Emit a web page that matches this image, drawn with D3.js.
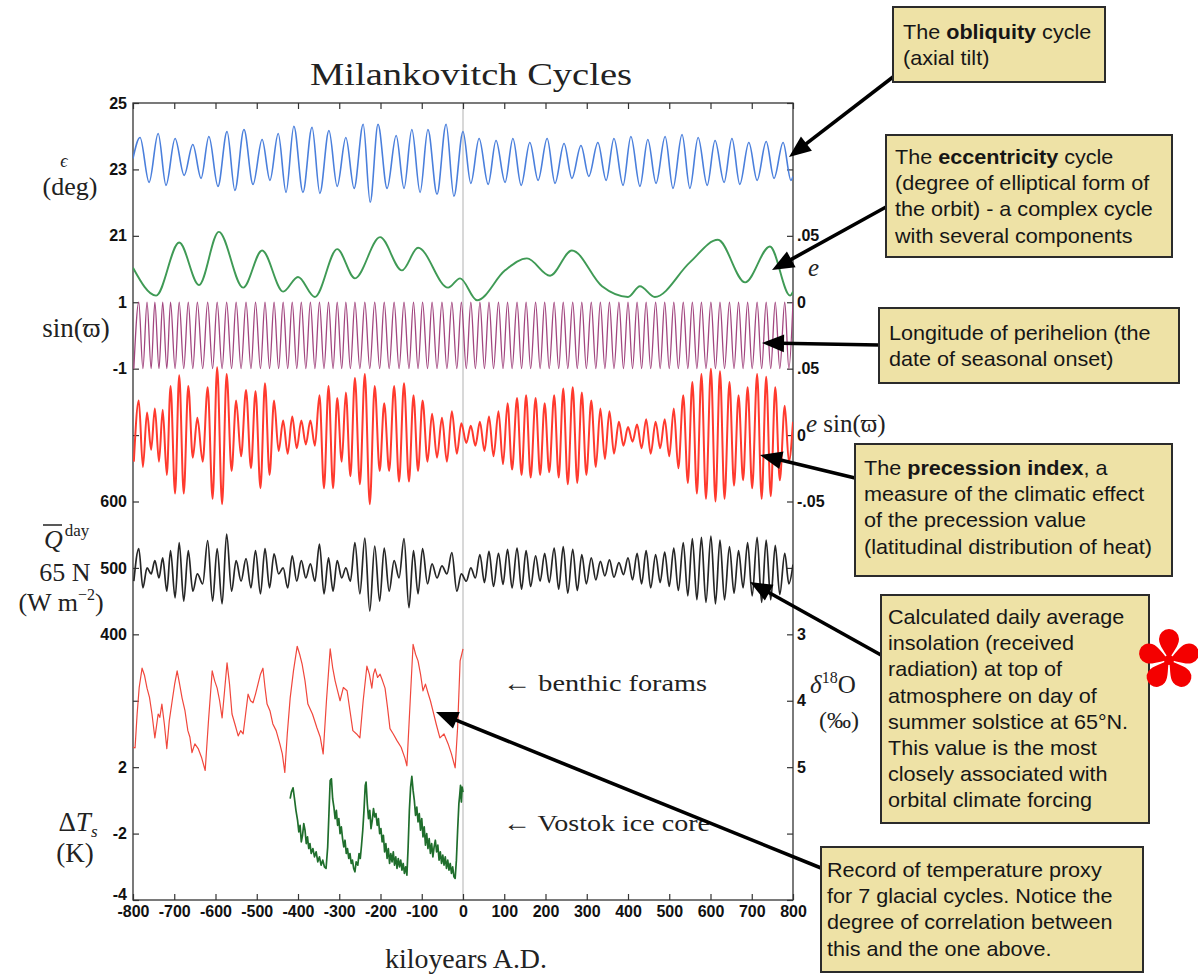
<!DOCTYPE html>
<html><head><meta charset="utf-8">
<script src="https://cdn.jsdelivr.net/npm/d3@7"></script>
<style>
body{margin:0;background:#fff;}
svg{display:block;background:#fff;}
.tick text{font-family:"Liberation Sans",Arial,sans-serif;font-weight:bold;font-size:16px;fill:#111;}
.tick line{stroke:#333;stroke-width:1.2;}
.serif{font-family:"Liberation Serif","DejaVu Serif",serif;fill:#222;}
.note{font-family:"Liberation Sans",Arial,sans-serif;font-size:20px;fill:#161616;}
</style></head><body>
<svg id="chart" width="1198" height="974"></svg>
<script>
// ---- data (time in kiloyears A.D.) ----
const xTicks = [-800,-700,-600,-500,-400,-300,-200,-100,0,100,200,300,400,500,600,700,800];
const leftLabels  = ["25","23","21","1","-1","","600","500","400","","2","-2","-4"];
const rightLabels = ["","",".05","0",".05","0","-.05","","3","4","5","",""];

// obliquity (deg): turning points
const obliquity = [[-800,23.33],[-783,23.96],[-761,22.61],[-739,24.08],[-720,22.52],[-698,23.93],[-676,22.82],[-655,23.75],[-635,22.73],[-616,23.99],[-594,22.49],[-572,24.14],[-553,22.37],[-531,24.20],[-509,22.55],[-487,23.90],[-468,22.67],[-448,24.08],[-429,22.31],[-410,24.30],[-388,22.31],[-366,24.27],[-347,22.28],[-325,24.17],[-305,22.49],[-284,23.96],[-264,22.43],[-242,24.36],[-225,22.01],[-206,24.36],[-184,22.43],[-162,24.02],[-143,22.43],[-124,24.20],[-104,22.31],[-85,24.20],[-63,22.25],[-41,24.36],[-22,22.19],[0,24.14],[19,22.58],[39,23.93],[61,22.55],[80,23.87],[102,22.61],[121,23.93],[141,22.52],[162,23.81],[182,22.67],[204,23.93],[223,22.58],[245,23.78],[264,22.73],[286,23.72],[305,22.79],[327,23.81],[347,22.67],[366,23.93],[388,22.52],[407,23.99],[429,22.49],[448,23.90],[468,22.58],[490,23.99],[509,22.43],[531,24.05],[550,22.43],[570,23.96],[592,22.52],[611,23.87],[633,22.61],[652,23.93],[671,22.55],[693,23.81],[713,22.67],[735,23.84],[754,22.73],[776,23.81],[795,22.67],[800,22.79]];

// eccentricity: turning points
const eccentricity = [[-800,0.026],[-744,0.005],[-688,0.045],[-640,0.013],[-592,0.053],[-533,0.011],[-487,0.039],[-436,0.008],[-400,0.019],[-359,0.004],[-305,0.040],[-262,0.018],[-201,0.049],[-148,0.024],[-109,0.041],[-36,0.011],[-7,0.018],[34,0.0015],[102,0.024],[155,0.033],[211,0.020],[264,0.039],[337,0.012],[400,0.004],[429,0.012],[465,0.004],[550,0.030],[618,0.047],[684,0.015],[744,0.042],[793,0.005],[800,0.008]];

// precession turning points (alternating minima / maxima)
const precT = [
 -798,-786,-776,-766,-756,-747,-737,-728,-718,-709,-698,-688,-677,-666,-655,-644,-631,-619,-607,-596,
 -584,-573,-561,-550,-538,-526,-514,-503,-491,-480,-469,-458,-447,-436,-425,-414,-403,-392,-381,-370,
 -359,-348,-337,-326,-315,-305,-294,-284,-273,-262,-250,-238,-226,-214,-202,-191,-179,-167,-155,-143,
 -131,-120,-109,-98,-86,-75,-63,-51,-39,-27,-15,-4,8,19,30,41,52,63,74,86,
 97,108,119,131,142,153,164,176,187,198,209,221,232,243,254,266,277,288,299,311,
 322,333,344,355,366,378,389,400,411,422,433,444,455,467,478,489,500,511,522,534,
 545,556,567,578,589,601,612,623,634,646,657,668,679,690,701,713,724,735,746,757,
 768,780,790,800];
const sinPerihelion = [
 -1,1,-1,1,-1,1,-1,1,-1,1,-1,1,-1,1,-1,1,-1,1,-1,1,
 -1,1,-1,1,-1,1,-1,1,-1,1,-1,1,-1,1,-1,1,-1,1,-1,1,
 -1,1,-1,1,-1,1,-1,1,-1,1,-1,1,-1,1,-1,1,-1,1,-1,1,
 -1,1,-1,1,-1,1,-1,1,-1,1,-1,1,-1,1,-1,1,-1,1,-1,1,
 -1,1,-1,1,-1,1,-1,1,-1,1,-1,1,-1,1,-1,1,-1,1,-1,1,
 -1,1,-1,1,-1,1,-1,1,-1,1,-1,1,-1,1,-1,1,-1,1,-1,1,
 -1,1,-1,1,-1,1,-1,1,-1,1,-1,1,-1,1,-1,1,-1,1,-1,1,
 -1,1,-1,1];
const precessionIndex = [
 -0.020,0.026,-0.024,0.017,-0.011,0.020,-0.020,0.019,-0.030,0.037,-0.044,0.045,-0.044,0.037,-0.017,0.013,-0.020,0.036,-0.048,0.051,
 -0.052,0.046,-0.027,0.026,-0.016,0.034,-0.025,0.033,-0.040,0.039,-0.030,0.026,-0.012,0.011,-0.014,0.014,-0.010,0.011,-0.007,0.011,
 -0.008,0.030,-0.040,0.037,-0.040,0.028,-0.020,0.032,-0.031,0.043,-0.037,0.046,-0.052,0.037,-0.027,0.024,-0.027,0.037,-0.035,0.039,
 -0.035,0.030,-0.027,0.026,-0.020,0.016,-0.017,0.013,-0.020,0.018,-0.014,0.009,-0.006,0.007,-0.008,0.010,-0.012,0.014,-0.016,0.018,
 -0.022,0.024,-0.026,0.028,-0.030,0.030,-0.032,0.028,-0.030,0.024,-0.028,0.030,-0.032,0.035,-0.037,0.036,-0.036,0.032,-0.030,0.026,
 -0.024,0.020,-0.018,0.018,-0.014,0.010,-0.008,0.006,-0.005,0.008,-0.010,0.012,-0.014,0.010,-0.010,0.012,-0.016,0.020,-0.025,0.030,
 -0.036,0.040,-0.044,0.046,-0.048,0.050,-0.050,0.048,-0.048,0.040,-0.038,0.030,-0.034,0.036,-0.040,0.046,-0.048,0.044,-0.046,0.036,
 -0.034,0.022,-0.020,0.010];
const insolation = [
 480,529,470,500,491,511,485,515,465,526,455,538,450,526,465,491,476,541,450,529,
 446,551,465,511,480,514,470,526,461,529,470,521,491,500,470,518,480,511,485,506,
 480,536,461,515,465,511,485,500,480,538,461,545,435,533,450,530,465,511,485,544,
 440,526,461,529,476,506,485,503,491,523,465,491,480,500,485,520,478,525,472,522,
 475,528,470,530,468,526,472,518,480,522,478,530,468,532,462,528,466,520,476,515,
 482,510,488,512,486,508,490,515,482,522,476,526,470,520,478,524,472,530,466,538,
 458,544,452,546,448,548,446,542,452,532,462,526,470,538,458,546,448,542,452,534,
 460,522,476,505];

// benthic foraminifera delta-18O (per mil)
const benthic = [[-800,4.70],[-795,4.71],[-790,4.20],[-785,3.80],[-778,3.51],[-772,3.62],[-766,3.81],[-760,3.95],[-754,4.20],[-747,4.56],[-739,4.20],[-735,4.25],[-730,4.05],[-724,4.35],[-718,4.72],[-712,4.30],[-705,4.00],[-699,3.75],[-693,3.55],[-687,3.75],[-681,3.96],[-674,4.15],[-667,4.45],[-662,4.55],[-657,4.78],[-650,4.65],[-642,4.72],[-634,4.85],[-625,5.05],[-617,4.30],[-608,3.55],[-602,3.70],[-596,3.81],[-590,4.00],[-584,4.26],[-578,3.85],[-572,3.43],[-566,3.75],[-560,4.20],[-553,4.35],[-545,4.53],[-539,4.45],[-533,4.50],[-527,4.20],[-521,3.90],[-515,4.00],[-509,4.03],[-503,3.90],[-497,3.75],[-491,3.60],[-485,3.51],[-480,3.80],[-475,4.05],[-468,4.15],[-461,4.35],[-453,4.45],[-444,4.65],[-438,4.80],[-432,5.08],[-426,4.50],[-419,3.96],[-411,3.55],[-402,3.18],[-396,3.30],[-390,3.45],[-383,3.70],[-376,4.05],[-365,4.20],[-354,4.41],[-346,4.55],[-339,4.80],[-331,4.00],[-322,3.22],[-316,3.50],[-310,3.70],[-304,3.85],[-298,4.00],[-290,3.80],[-281,3.85],[-274,4.15],[-267,4.45],[-258,4.50],[-250,4.56],[-242,4.00],[-233,3.48],[-227,3.60],[-221,3.81],[-217,3.60],[-213,3.52],[-207,3.65],[-201,3.60],[-195,3.70],[-189,3.81],[-183,4.10],[-177,4.42],[-169,4.50],[-160,4.60],[-150,4.70],[-141,4.86],[-136,4.98],[-128,4.00],[-121,3.15],[-115,3.30],[-109,3.40],[-103,3.60],[-97,3.85],[-91,3.75],[-85,3.88],[-79,4.00],[-73,4.15],[-65,4.35],[-56,4.56],[-46,4.50],[-36,4.65],[-28,4.80],[-19,5.01],[-13,4.40],[-7,3.40],[-3,3.30],[0,3.22]];

// Vostok ice core temperature anomaly (K)
const vostok = [[-419,-0.95],[-416,-0.75],[-412,-0.62],[-409,-0.90],[-405,-1.30],[-401,-1.60],[-398,-1.95],[-395,-1.75],[-392,-2.25],[-389,-2.05],[-386,-1.70],[-383,-1.90],[-380,-2.30],[-377,-2.10],[-374,-2.45],[-371,-2.30],[-368,-2.60],[-364,-2.45],[-360,-2.70],[-356,-2.55],[-352,-2.85],[-348,-2.70],[-344,-2.95],[-340,-2.80],[-336,-3.00],[-332,-3.05],[-328,-2.40],[-325,-1.40],[-322,-0.40],[-319,-0.35],[-316,-0.95],[-313,-1.20],[-310,-1.55],[-307,-1.30],[-304,-1.75],[-301,-1.55],[-298,-2.00],[-295,-1.80],[-292,-2.15],[-289,-2.40],[-286,-2.20],[-283,-2.60],[-280,-2.45],[-277,-2.75],[-274,-2.60],[-271,-2.90],[-268,-2.80],[-265,-3.05],[-262,-3.15],[-259,-2.85],[-255,-2.95],[-252,-2.60],[-249,-2.75],[-246,-2.35],[-243,-1.90],[-240,-1.30],[-237,-0.55],[-235,-0.45],[-232,-1.10],[-229,-1.55],[-226,-1.30],[-223,-1.85],[-220,-1.60],[-217,-1.25],[-214,-1.50],[-211,-1.40],[-208,-1.75],[-205,-1.55],[-202,-2.00],[-199,-1.85],[-196,-2.25],[-193,-2.05],[-190,-2.55],[-187,-2.30],[-184,-2.75],[-181,-2.45],[-178,-2.90],[-175,-2.60],[-172,-2.85],[-169,-2.55],[-166,-2.95],[-163,-2.70],[-160,-3.05],[-157,-2.75],[-154,-3.00],[-151,-2.80],[-148,-3.10],[-145,-2.90],[-142,-3.20],[-139,-3.00],[-136,-3.25],[-133,-2.40],[-130,-1.30],[-127,-0.60],[-124,-0.28],[-121,-0.70],[-118,-1.00],[-115,-1.45],[-112,-1.20],[-109,-1.65],[-106,-1.40],[-103,-1.90],[-100,-1.55],[-97,-2.10],[-94,-1.80],[-91,-2.35],[-88,-2.00],[-85,-2.45],[-82,-2.15],[-79,-2.60],[-76,-2.30],[-73,-2.70],[-70,-2.40],[-67,-2.20],[-64,-2.55],[-61,-2.35],[-58,-2.80],[-55,-2.55],[-52,-2.90],[-49,-2.65],[-46,-2.95],[-43,-2.70],[-40,-3.05],[-37,-2.80],[-34,-3.10],[-31,-2.90],[-28,-3.20],[-25,-3.00],[-22,-3.30],[-19,-3.35],[-16,-2.80],[-13,-1.90],[-10,-1.10],[-8,-0.85],[-6,-0.55],[-4,-1.05],[-2,-0.60],[0,-0.75]];

// ---- layout ----
const svg = d3.select("#chart");
const X0 = 133, X1 = 793, Y0 = 103, Y1 = 900;
const x = d3.scaleLinear([-800, 800], [X0, X1]);
const row = d3.scaleLinear([0, 12], [Y0, Y1]);   // shared tick rows of the stacked panels

const yObl  = d3.scaleLinear([21, 25], [row(2), row(0)]);
const yEcc  = d3.scaleLinear([0, 0.05], [row(3), row(2)]);
const ySin  = d3.scaleLinear([-1, 1], [row(4), row(3)]);
const yPrec = d3.scaleLinear([-0.05, 0.05], [row(6), row(4)]);
const yIns  = d3.scaleLinear([400, 600], [row(8), row(6)]);
const yO18  = d3.scaleLinear([3, 5], [row(8), row(10)]);
const yDT   = d3.scaleLinear([-4, 0], [row(12), row(10)]);

svg.append("defs").append("clipPath").attr("id", "plotclip")
  .append("rect").attr("x", X0).attr("y", Y0).attr("width", X1 - X0).attr("height", Y1 - Y0);

// present-day marker
svg.append("line").attr("x1", x(0)).attr("x2", x(0)).attr("y1", Y0).attr("y2", Y1)
  .attr("stroke", "#cfcfcf").attr("stroke-width", 1.6);

// axes
function styleAxis(g){ g.select(".domain").remove(); }
svg.append("g").attr("transform", `translate(0,${Y1})`)
  .call(d3.axisBottom(x).tickValues(xTicks).tickFormat(d => String(d)).tickSizeInner(-6).tickSizeOuter(0).tickPadding(6))
  .call(styleAxis);
svg.append("g").attr("transform", `translate(0,${Y0})`)
  .call(d3.axisTop(x).tickValues(xTicks).tickFormat("").tickSizeInner(-6).tickSizeOuter(0))
  .call(styleAxis);
const leftAxis = svg.append("g").attr("transform", `translate(${X0},0)`)
  .call(d3.axisLeft(row).tickValues(d3.range(13)).tickFormat(i => leftLabels[i]).tickSizeInner(-6).tickSizeOuter(0).tickPadding(6))
  .call(styleAxis);
// lift the bottom-most left label clear of the x tick labels
leftAxis.selectAll(".tick").filter(i => i === 12).select("text").attr("dy", "-0.05em");
svg.append("g").attr("transform", `translate(${X1},0)`)
  .call(d3.axisRight(row).tickValues(d3.range(13)).tickFormat(i => rightLabels[i]).tickSizeInner(-6).tickSizeOuter(0).tickPadding(4))
  .call(styleAxis);

svg.append("rect").attr("x", X0).attr("y", Y0).attr("width", X1 - X0).attr("height", Y1 - Y0)
  .attr("fill", "none").attr("stroke", "#333").attr("stroke-width", 1.3);

// series
const plot = svg.append("g").attr("clip-path", "url(#plotclip)");
function drawPairs(data, yS, color, width, curve){
  plot.append("path").datum(data)
    .attr("d", d3.line().x(d => x(d[0])).y(d => yS(d[1])).curve(curve))
    .attr("fill", "none").attr("stroke", color).attr("stroke-width", width).attr("stroke-linejoin", "round");
}
function drawSeries(ts, vs, yS, color, width, curve){
  plot.append("path").datum(ts)
    .attr("d", d3.line().x(d => x(d)).y((d, i) => yS(vs[i])).curve(curve))
    .attr("fill", "none").attr("stroke", color).attr("stroke-width", width).attr("stroke-linejoin", "round");
}
drawPairs(obliquity, yObl, "#4a7fdc", 1.6, d3.curveMonotoneX);
drawPairs(eccentricity, yEcc, "#3f9a55", 1.9, d3.curveMonotoneX);
drawSeries(precT, sinPerihelion, ySin, "#a2467f", 1.3, d3.curveMonotoneX);
drawSeries(precT, precessionIndex, yPrec, "#ff3a2e", 2.0, d3.curveMonotoneX);
drawSeries(precT, insolation, yIns, "#262626", 1.7, d3.curveMonotoneX);
drawPairs(benthic, yO18, "#f0473c", 1.2, d3.curveLinear);
drawPairs(vostok, yDT, "#1f6e2c", 1.7, d3.curveLinear);

// ---- titles and math labels ----
svg.append("text").attr("class", "serif").attr("x", 471).attr("y", 85)
  .attr("text-anchor", "middle").attr("font-size", 31).attr("textLength", 322).attr("lengthAdjust", "spacingAndGlyphs")
  .text("Milankovitch Cycles");
svg.append("text").attr("class", "serif").attr("x", 466).attr("y", 968)
  .attr("text-anchor", "middle").attr("font-size", 27).attr("textLength", 162).attr("lengthAdjust", "spacingAndGlyphs")
  .text("kiloyears A.D.");

function serif(xp, yp, size, anchor){
  return svg.append("text").attr("class", "serif").attr("x", xp).attr("y", yp)
    .attr("font-size", size).attr("text-anchor", anchor || "middle");
}
serif(64, 167, 18).attr("font-style", "italic").text("ϵ");
serif(70, 195, 26).text("(deg)");
serif(76, 337, 27).text("sin(ϖ)");
// Q-bar with superscript
const q = serif(44, 548, 26, "start");
q.append("tspan").attr("font-style", "italic").text("Q");
q.append("tspan").attr("font-size", 17).attr("dy", -12).attr("dx", 2).text("day");
svg.append("line").attr("x1", 43).attr("x2", 62).attr("y1", 525).attr("y2", 525).attr("stroke", "#222").attr("stroke-width", 1.5);
serif(65, 581, 26).text("65 N");
const wm = serif(61, 611, 26);
wm.append("tspan").text("(W m");
wm.append("tspan").attr("font-size", 16).attr("dy", -11).text("−2");
wm.append("tspan").attr("dy", 11).text(")");
const dt = serif(78, 831, 27);
dt.append("tspan").text("Δ");
dt.append("tspan").attr("font-style", "italic").text("T");
dt.append("tspan").attr("font-style", "italic").attr("font-size", 17).attr("dy", 6).text("s");
serif(75, 862, 27).text("(K)");

serif(808, 276, 25, "start").attr("font-style", "italic").text("e");
const es = serif(806, 432, 25, "start");
es.append("tspan").attr("font-style", "italic").text("e");
es.append("tspan").text(" sin(ϖ)");
const d18 = serif(810, 693, 25, "start");
d18.append("tspan").attr("font-style", "italic").text("δ");
d18.append("tspan").attr("font-size", 16).attr("dy", -10).text("18");
d18.append("tspan").attr("dy", 10).text("O");
serif(839, 728, 24).text("(‰)");

serif(503, 691, 24, "start").attr("textLength", 204).attr("lengthAdjust", "spacingAndGlyphs").text("← benthic forams");
serif(503, 831, 24, "start").attr("textLength", 207).attr("lengthAdjust", "spacingAndGlyphs").text("← Vostok ice core");

// ---- callout boxes ----
const notes = [
  {box:[893,7,212,75],   tx:903, ty:39,  lines:[[["The ",0],["obliquity",1],[" cycle",0]],[["(axial tilt)",0]]]},
  {box:[886,135,286,122], tx:895, ty:164, lines:[[["The ",0],["eccentricity",1],[" cycle",0]],[["(degree of elliptical form of",0]],[["the orbit) - a complex cycle",0]],[["with several components",0]]]},
  {box:[879,308,300,75],  tx:889, ty:340, lines:[[["Longitude of perihelion (the",0]],[["date of seasonal onset)",0]]]},
  {box:[855,444,317,132], tx:864, ty:475, lines:[[["The ",0],["precession index",1],[", a",0]],[["measure of the climatic effect",0]],[["of the precession value",0]],[["(latitudinal distribution of heat)",0]]]},
  {box:[881,595,268,228], tx:888, ty:624, lines:[[["Calculated daily average",0]],[["insolation (received",0]],[["radiation) at top of",0]],[["atmosphere on day of",0]],[["summer solstice at 65°N.",0]],[["This value is the most",0]],[["closely associated with",0]],[["orbital climate forcing",0]]]},
  {box:[821,847,322,125], tx:827, ty:877, lines:[[["Record of temperature proxy",0]],[["for 7 glacial cycles. Notice the",0]],[["degree of correlation between",0]],[["this and the one above.",0]]]}
];
const arrows = [
  [893,77,789,157],[886,207,772,270],[879,345,762,343],[855,478,760,455],[881,655,750,582],[821,868,436,712]
];

function arrow(x1, y1, x2, y2){
  const a = Math.atan2(y2 - y1, x2 - x1), L = 22, W = 9;
  const bx = x2 - L * Math.cos(a), by = y2 - L * Math.sin(a);
  svg.append("line").attr("x1", x1).attr("y1", y1).attr("x2", bx + 3 * Math.cos(a)).attr("y2", by + 3 * Math.sin(a))
    .attr("stroke", "#000").attr("stroke-width", 3.6);
  const px = -Math.sin(a), py = Math.cos(a);
  svg.append("path").attr("d", `M${x2},${y2}L${bx + W * px},${by + W * py}L${bx - W * px},${by - W * py}Z`).attr("fill", "#000");
}
arrows.forEach(a => arrow(...a));

notes.forEach(n => {
  const [bx, by, bw, bh] = n.box;
  svg.append("rect").attr("x", bx).attr("y", by).attr("width", bw).attr("height", bh)
    .attr("fill", "#eee2a6").attr("stroke", "#2b2b2b").attr("stroke-width", 2);
  const g = svg.append("g").attr("transform", `translate(${n.tx},${n.ty}) scale(1.08,1)`);
  n.lines.forEach((ln, i) => {
    const t = g.append("text").attr("class", "note").attr("x", 0).attr("y", i * 26.2);
    ln.forEach(([s, b]) => t.append("tspan").attr("font-weight", b ? "bold" : "normal").text(s));
  });
});

// red asterisk mark: five teardrop arms
const star = svg.append("g").attr("transform", "translate(1169,660)");
for (let k = 0; k < 5; k++){
  star.append("path")
    .attr("d", "M0,0 C-3,-7 -10,-14 -10,-21 A10,10 0 0 1 10,-21 C10,-14 3,-7 0,0 Z")
    .attr("transform", `rotate(${k * 72})`).attr("fill", "#f40000");
}
star.append("circle").attr("r", 5).attr("fill", "#f40000");
</script></body></html>
